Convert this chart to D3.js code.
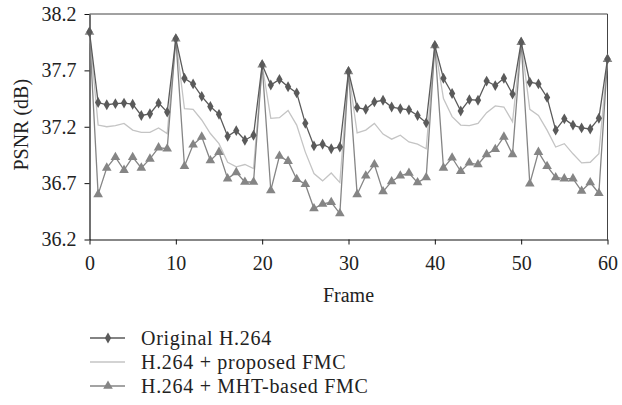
<!DOCTYPE html>
<html>
<head>
<meta charset="utf-8">
<script src="https://cdn.jsdelivr.net/npm/d3@7"></script>
<style>
  body { margin: 0; background: #fff; }
  svg text { font-family: "Liberation Serif", "DejaVu Serif", serif; fill: #222; }
</style>
</head>
<body>
<div id="chart"></div>
<script>
// frame numbers 0..60
var frames = d3.range(0, 61);

var original = [38.04, 37.415, 37.395, 37.405, 37.41, 37.40, 37.30, 37.315, 37.41, 37.33,
  37.98, 37.63, 37.58, 37.47, 37.38, 37.31, 37.115, 37.165, 37.08, 37.125,
  37.75, 37.57, 37.62, 37.555, 37.50, 37.23, 37.03, 37.045, 37.005, 37.02,
  37.69, 37.37, 37.355, 37.42, 37.435, 37.375, 37.36, 37.35, 37.30, 37.235,
  37.92, 37.63, 37.495, 37.34, 37.44, 37.435, 37.605, 37.565, 37.63, 37.49,
  37.95, 37.595, 37.58, 37.46, 37.17, 37.27, 37.215, 37.19, 37.18, 37.275,
  37.80];

var proposed = [38.04, 37.215, 37.20, 37.21, 37.23, 37.17, 37.15, 37.15, 37.19, 37.14,
  37.98, 37.36, 37.355, 37.26, 37.14, 37.05, 36.885, 36.845, 36.865, 36.83,
  37.75, 37.275, 37.28, 37.345, 37.215, 36.975, 36.785, 36.72, 36.79, 36.705,
  37.69, 37.145, 37.17, 37.23, 37.135, 37.09, 37.125, 37.065, 37.045, 37.005,
  37.92, 37.45, 37.29, 37.215, 37.21, 37.23, 37.325, 37.385, 37.375, 37.245,
  37.95, 37.355, 37.30, 37.17, 37.02, 37.05, 36.96, 36.88, 36.885, 36.96,
  37.80];

var mht = [38.04, 36.60, 36.835, 36.93, 36.815, 36.93, 36.835, 36.915, 37.015, 37.005,
  37.98, 36.85, 37.04, 37.11, 36.90, 36.975, 36.74, 36.795, 36.71, 36.71,
  37.75, 36.635, 36.94, 36.895, 36.735, 36.69, 36.475, 36.515, 36.53, 36.43,
  37.69, 36.60, 36.765, 36.865, 36.625, 36.715, 36.765, 36.79, 36.705, 36.75,
  37.92, 36.835, 36.925, 36.805, 36.88, 36.865, 36.955, 37.00, 37.11, 36.955,
  37.95, 36.695, 36.975, 36.85, 36.75, 36.74, 36.74, 36.63, 36.705, 36.61,
  37.80];

var xTicks = [0, 10, 20, 30, 40, 50, 60];
var yTicks = [36.2, 36.7, 37.2, 37.7, 38.2];

var seriesNames = ['Original H.264', 'H.264 + proposed FMC', 'H.264 + MHT-based FMC'];

var width = 622, height = 405;
var margin = {top: 14, right: 14, bottom: 165.5, left: 89.5};

var svg = d3.select('#chart').append('svg')
  .attr('width', width).attr('height', height);

var x = d3.scaleLinear().domain([0, 60]).range([margin.left, width - margin.right - 0.5]);
var y = d3.scaleLinear().domain([36.2, 38.2]).range([height - margin.bottom, margin.top]);

// frame box (top + right)
svg.append('path')
  .attr('d', 'M' + x(0) + ',' + y(38.2) + 'H' + x(60) + 'V' + y(36.2))
  .attr('fill', 'none').attr('stroke', '#444').attr('stroke-width', 1);

var xAxis = svg.append('g')
  .attr('transform', 'translate(0,' + y(36.2) + ')')
  .call(d3.axisBottom(x).tickValues(xTicks).tickSize(5).tickSizeOuter(0).tickFormat(d3.format('d')));
var yAxis = svg.append('g')
  .attr('transform', 'translate(' + x(0) + ',0)')
  .call(d3.axisLeft(y).tickValues(yTicks).tickSize(5).tickSizeOuter(0).tickFormat(d3.format('.1f')));

[xAxis, yAxis].forEach(function(a) {
  a.select('.domain').attr('stroke', '#111').attr('stroke-width', 1.2);
  a.selectAll('.tick line').attr('stroke', '#111');
  a.selectAll('.tick text').attr('font-size', 20).attr('fill', '#222')
    .style('font-family', '"Liberation Serif", serif');
});
xAxis.selectAll('.tick text').attr('y', 16);
yAxis.selectAll('.tick text').attr('x', -13);

svg.append('text')
  .attr('transform', 'translate(28,' + ((y(36.2) + y(38.2)) / 2 - 2) + ') rotate(-90)')
  .attr('text-anchor', 'middle').attr('font-size', 20)
  .text('PSNR (dB)');

svg.append('text')
  .attr('x', (x(0) + x(60)) / 2).attr('y', 302)
  .attr('text-anchor', 'middle').attr('font-size', 20)
  .text('Frame');

var line = d3.line()
  .x(function(d, i) { return x(frames[i]); })
  .y(function(d) { return y(d); });

var styles = [
  {data: original, color: '#5a5a5a', marker: d3.symbolDiamond, size: 34},
  {data: proposed, color: '#c4c4c4', marker: null, size: 0},
  {data: mht, color: '#858585', marker: d3.symbolTriangle, size: 40}
];

// draw lighter lines first so the dark one sits on top
[1, 2, 0].forEach(function(k) {
  var s = styles[k];
  svg.append('path').datum(s.data)
    .attr('fill', 'none').attr('stroke', s.color).attr('stroke-width', 1.3)
    .attr('d', line);
  if (s.marker) {
    svg.append('g').selectAll('path').data(s.data).enter()
      .append('path')
      .attr('transform', function(d, i) { return 'translate(' + x(frames[i]) + ',' + y(d) + ')'; })
      .attr('d', d3.symbol().type(s.marker).size(s.size))
      .attr('fill', s.color);
  }
});

// legend
var legend = svg.append('g');
seriesNames.forEach(function(name, k) {
  var s = styles[k];
  var ly = 338 + k * 24;
  legend.append('line')
    .attr('x1', 90).attr('x2', 125).attr('y1', ly).attr('y2', ly)
    .attr('stroke', s.color).attr('stroke-width', 1.3);
  if (s.marker) {
    legend.append('path')
      .attr('transform', 'translate(108,' + ly + ')')
      .attr('d', d3.symbol().type(s.marker).size(s.size))
      .attr('fill', s.color);
  }
  legend.append('text')
    .attr('x', 141).attr('y', ly + 6.5)
    .attr('font-size', 20)
    .style('letter-spacing', '0.7px')
    .text(name);
});
</script>
</body>
</html>
